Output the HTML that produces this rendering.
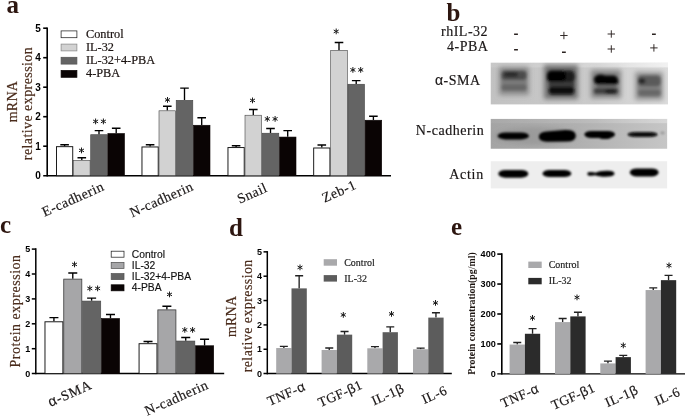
<!DOCTYPE html>
<html><head><meta charset="utf-8"><title>Figure</title>
<style>
html,body{margin:0;padding:0;background:#fff;}
body{width:685px;height:417px;overflow:hidden;font-family:"Liberation Serif",serif;}
svg{display:block;will-change:transform;transform:translateZ(0);}
text{white-space:pre;}
</style></head><body>
<svg width="685" height="417" viewBox="0 0 685 417">
<text x="6.50" y="13.00" font-family='"Liberation Serif", serif' font-size="25" fill="#2d1610" text-anchor="start" font-weight="bold">a</text>
<text x="446.50" y="20.50" font-family='"Liberation Serif", serif' font-size="25" fill="#2d1610" text-anchor="start" font-weight="bold">b</text>
<text x="0.00" y="233.30" font-family='"Liberation Serif", serif' font-size="25" fill="#2d1610" text-anchor="start" font-weight="bold">c</text>
<text x="229.00" y="235.70" font-family='"Liberation Serif", serif' font-size="25" fill="#2d1610" text-anchor="start" font-weight="bold">d</text>
<text x="451.00" y="235.00" font-family='"Liberation Serif", serif' font-size="25" fill="#2d1610" text-anchor="start" font-weight="bold">e</text>
<path d="M47.20 27.40V176.50" stroke="#000" stroke-width="1.6" fill="none"/>
<path d="M43.20 175.70H391.00" stroke="#000" stroke-width="1.6" fill="none"/>
<text x="40.90" y="179.30" font-family='"Liberation Sans", sans-serif' font-size="10" fill="#000" text-anchor="end" font-weight="bold">0</text>
<path d="M43.20 146.20H47.20" stroke="#000" stroke-width="1.6"/>
<text x="40.90" y="149.80" font-family='"Liberation Sans", sans-serif' font-size="10" fill="#000" text-anchor="end" font-weight="bold">1</text>
<path d="M43.20 116.70H47.20" stroke="#000" stroke-width="1.6"/>
<text x="40.90" y="120.30" font-family='"Liberation Sans", sans-serif' font-size="10" fill="#000" text-anchor="end" font-weight="bold">2</text>
<path d="M43.20 87.20H47.20" stroke="#000" stroke-width="1.6"/>
<text x="40.90" y="90.80" font-family='"Liberation Sans", sans-serif' font-size="10" fill="#000" text-anchor="end" font-weight="bold">3</text>
<path d="M43.20 57.70H47.20" stroke="#000" stroke-width="1.6"/>
<text x="40.90" y="61.30" font-family='"Liberation Sans", sans-serif' font-size="10" fill="#000" text-anchor="end" font-weight="bold">4</text>
<path d="M43.20 28.20H47.20" stroke="#000" stroke-width="1.6"/>
<text x="40.90" y="31.80" font-family='"Liberation Sans", sans-serif' font-size="10" fill="#000" text-anchor="end" font-weight="bold">5</text>
<path d="M64.60 146.20V144.72M60.30 144.72H68.90" stroke="#000" stroke-width="1.35" fill="none"/>
<rect x="56.48" y="146.67" width="16.25" height="29.02" fill="#ffffff" stroke="#111" stroke-width="0.95"/>
<path d="M81.80 160.06V157.70M77.50 157.70H86.10" stroke="#000" stroke-width="1.35" fill="none"/>
<rect x="73.50" y="160.37" width="16.60" height="15.33" fill="#d2d2d2" stroke="#444" stroke-width="0.6"/>
<path d="M99.00 134.40V130.56M94.70 130.56H103.30" stroke="#000" stroke-width="1.35" fill="none"/>
<rect x="90.70" y="134.70" width="16.60" height="41.00" fill="#646464" stroke="#444" stroke-width="0.6"/>
<path d="M116.20 133.22V128.20M111.90 128.20H120.50" stroke="#000" stroke-width="1.35" fill="none"/>
<rect x="107.90" y="133.52" width="16.60" height="42.18" fill="#0a0404" stroke="#0a0404" stroke-width="0.6"/>
<path d="M150.10 146.50V144.72M145.80 144.72H154.40" stroke="#000" stroke-width="1.35" fill="none"/>
<rect x="141.97" y="146.97" width="16.25" height="28.73" fill="#ffffff" stroke="#111" stroke-width="0.95"/>
<path d="M167.30 110.50V106.23M163.00 106.23H171.60" stroke="#000" stroke-width="1.35" fill="none"/>
<rect x="159.00" y="110.80" width="16.60" height="64.89" fill="#d2d2d2" stroke="#444" stroke-width="0.6"/>
<path d="M184.50 100.03V88.08M180.20 88.08H188.80" stroke="#000" stroke-width="1.35" fill="none"/>
<rect x="176.20" y="100.33" width="16.60" height="75.37" fill="#646464" stroke="#444" stroke-width="0.6"/>
<path d="M201.70 124.96V117.73M197.40 117.73H206.00" stroke="#000" stroke-width="1.35" fill="none"/>
<rect x="193.40" y="125.26" width="16.60" height="50.44" fill="#0a0404" stroke="#0a0404" stroke-width="0.6"/>
<path d="M236.10 147.08V145.76M231.80 145.76H240.40" stroke="#000" stroke-width="1.35" fill="none"/>
<rect x="227.97" y="147.56" width="16.25" height="28.14" fill="#ffffff" stroke="#111" stroke-width="0.95"/>
<path d="M253.30 114.93V109.47M249.00 109.47H257.60" stroke="#000" stroke-width="1.35" fill="none"/>
<rect x="245.00" y="115.23" width="16.60" height="60.47" fill="#d2d2d2" stroke="#444" stroke-width="0.6"/>
<path d="M270.50 132.92V128.50M266.20 128.50H274.80" stroke="#000" stroke-width="1.35" fill="none"/>
<rect x="262.20" y="133.22" width="16.60" height="42.48" fill="#646464" stroke="#444" stroke-width="0.6"/>
<path d="M287.70 136.76V130.56M283.40 130.56H292.00" stroke="#000" stroke-width="1.35" fill="none"/>
<rect x="279.40" y="137.06" width="16.60" height="38.64" fill="#0a0404" stroke="#0a0404" stroke-width="0.6"/>
<path d="M321.80 147.53V145.02M317.50 145.02H326.10" stroke="#000" stroke-width="1.35" fill="none"/>
<rect x="313.68" y="148.00" width="16.25" height="27.70" fill="#ffffff" stroke="#111" stroke-width="0.95"/>
<path d="M339.00 50.18V42.51M334.70 42.51H343.30" stroke="#000" stroke-width="1.35" fill="none"/>
<rect x="330.70" y="50.48" width="16.60" height="125.22" fill="#d2d2d2" stroke="#444" stroke-width="0.6"/>
<path d="M356.20 83.95V80.56M351.90 80.56H360.50" stroke="#000" stroke-width="1.35" fill="none"/>
<rect x="347.90" y="84.25" width="16.60" height="91.44" fill="#646464" stroke="#444" stroke-width="0.6"/>
<path d="M373.40 119.94V116.26M369.10 116.26H377.70" stroke="#000" stroke-width="1.35" fill="none"/>
<rect x="365.10" y="120.24" width="16.60" height="55.45" fill="#0a0404" stroke="#0a0404" stroke-width="0.6"/>
<path d="M81.50 147.90L81.50 152.90M79.33 149.15L83.67 151.65M83.67 149.15L79.33 151.65" stroke="#1a1a1a" stroke-width="1.0" fill="none" stroke-linecap="round"/>
<path d="M95.60 118.90L95.60 123.90M93.43 120.15L97.77 122.65M97.77 120.15L93.43 122.65M103.40 118.90L103.40 123.90M101.23 120.15L105.57 122.65M105.57 120.15L101.23 122.65" stroke="#1a1a1a" stroke-width="1.0" fill="none" stroke-linecap="round"/>
<path d="M167.50 97.40L167.50 102.40M165.33 98.65L169.67 101.15M169.67 98.65L165.33 101.15" stroke="#1a1a1a" stroke-width="1.0" fill="none" stroke-linecap="round"/>
<path d="M252.50 97.90L252.50 102.90M250.33 99.15L254.67 101.65M254.67 99.15L250.33 101.65" stroke="#1a1a1a" stroke-width="1.0" fill="none" stroke-linecap="round"/>
<path d="M267.30 116.40L267.30 121.40M265.13 117.65L269.47 120.15M269.47 117.65L265.13 120.15M275.10 116.40L275.10 121.40M272.93 117.65L277.27 120.15M277.27 117.65L272.93 120.15" stroke="#1a1a1a" stroke-width="1.0" fill="none" stroke-linecap="round"/>
<path d="M336.20 28.90L336.20 33.90M334.03 30.15L338.37 32.65M338.37 30.15L334.03 32.65" stroke="#1a1a1a" stroke-width="1.0" fill="none" stroke-linecap="round"/>
<path d="M352.90 67.40L352.90 72.40M350.73 68.65L355.07 71.15M355.07 68.65L350.73 71.15M360.70 67.40L360.70 72.40M358.53 68.65L362.87 71.15M362.87 68.65L358.53 71.15" stroke="#1a1a1a" stroke-width="1.0" fill="none" stroke-linecap="round"/>
<rect x="61.1" y="30.90" width="15.8" height="6.8" fill="#ffffff" stroke="#222" stroke-width="0.75"/>
<text x="86.00" y="37.80" font-family='"Liberation Serif", serif' font-size="12.3" fill="#1a1210" text-anchor="start" font-weight="normal" stroke="#1a1210" stroke-width="0.2">Control</text>
<rect x="61.1" y="44.10" width="15.8" height="6.8" fill="#d2d2d2" stroke="#8a8a8a" stroke-width="0.75"/>
<text x="86.00" y="51.00" font-family='"Liberation Serif", serif' font-size="12.3" fill="#1a1210" text-anchor="start" font-weight="normal" stroke="#1a1210" stroke-width="0.2">IL-32</text>
<rect x="61.1" y="57.30" width="15.8" height="6.8" fill="#646464" stroke="#555" stroke-width="0.75"/>
<text x="86.00" y="64.20" font-family='"Liberation Serif", serif' font-size="12.3" fill="#1a1210" text-anchor="start" font-weight="normal" stroke="#1a1210" stroke-width="0.2">IL-32+4-PBA</text>
<rect x="61.1" y="70.50" width="15.8" height="6.8" fill="#0a0404" stroke="#0a0404" stroke-width="0.75"/>
<text x="86.00" y="77.40" font-family='"Liberation Serif", serif' font-size="12.3" fill="#1a1210" text-anchor="start" font-weight="normal" stroke="#1a1210" stroke-width="0.2">4-PBA</text>
<text x="17.20" y="101.60" font-family='"Liberation Serif", serif' font-size="14" fill="#4a2c1c" text-anchor="middle" font-weight="normal" letter-spacing="0.2" transform="rotate(-90 17.20 101.60)" stroke="#4a2c1c" stroke-width="0.18">mRNA</text>
<text x="31.60" y="103.70" font-family='"Liberation Serif", serif' font-size="14" fill="#4a2c1c" text-anchor="middle" font-weight="normal" transform="rotate(-90 31.60 103.70)" textLength="113" lengthAdjust="spacing" stroke="#4a2c1c" stroke-width="0.18">relative expression</text>
<text x="44.50" y="216.80" font-family='"Liberation Serif", serif' font-size="14" fill="#1b1717" text-anchor="start" font-weight="normal" letter-spacing="0.5" transform="rotate(-24 44.50 216.80)" stroke="#1b1717" stroke-width="0.18">E-cadherin</text>
<text x="132.20" y="217.40" font-family='"Liberation Serif", serif' font-size="14" fill="#1b1717" text-anchor="start" font-weight="normal" letter-spacing="0.5" transform="rotate(-24 132.20 217.40)" stroke="#1b1717" stroke-width="0.18">N-cadherin</text>
<text x="239.70" y="203.80" font-family='"Liberation Serif", serif' font-size="14" fill="#1b1717" text-anchor="start" font-weight="normal" letter-spacing="0.5" transform="rotate(-24 239.70 203.80)" stroke="#1b1717" stroke-width="0.18">Snail</text>
<text x="324.50" y="202.80" font-family='"Liberation Serif", serif' font-size="14" fill="#1b1717" text-anchor="start" font-weight="normal" letter-spacing="0.5" transform="rotate(-24 324.50 202.80)" stroke="#1b1717" stroke-width="0.18">Zeb-1</text>
<text x="441.00" y="35.70" font-family='"Liberation Serif", serif' font-size="14" fill="#1b1717" text-anchor="start" font-weight="normal" letter-spacing="0.5" stroke="#1b1717" stroke-width="0.18">rhIL-32</text>
<text x="447.00" y="50.70" font-family='"Liberation Serif", serif' font-size="14" fill="#1b1717" text-anchor="start" font-weight="normal" letter-spacing="0.5" stroke="#1b1717" stroke-width="0.18">4-PBA</text>
<text x="435.00" y="85.00" font-family='"Liberation Serif", serif' font-size="14" fill="#1b1717" text-anchor="start" font-weight="normal" letter-spacing="0.5" stroke="#1b1717" stroke-width="0.18"><tspan font-family="Liberation Sans">α</tspan>-SMA</text>
<text x="415.80" y="134.50" font-family='"Liberation Serif", serif' font-size="14" fill="#1b1717" text-anchor="start" font-weight="normal" letter-spacing="0.55" stroke="#1b1717" stroke-width="0.18">N-cadherin</text>
<text x="449.30" y="179.00" font-family='"Liberation Serif", serif' font-size="14" fill="#1b1717" text-anchor="start" font-weight="normal" letter-spacing="0.7" stroke="#1b1717" stroke-width="0.18">Actin</text>
<defs>
<filter id="b1" x="-30%" y="-100%" width="160%" height="300%"><feGaussianBlur stdDeviation="1.7"/></filter>
<filter id="b2" x="-30%" y="-100%" width="160%" height="300%"><feGaussianBlur stdDeviation="0.9"/></filter>
<filter id="b3" x="-30%" y="-100%" width="160%" height="300%"><feGaussianBlur stdDeviation="2.5"/></filter>
<linearGradient id="g1" x1="0" x2="1" y1="0" y2="0"><stop offset="0" stop-color="#c2c2c2"/><stop offset="0.55" stop-color="#cacaca"/><stop offset="1" stop-color="#dcdcdc"/></linearGradient>
<linearGradient id="g2" x1="0" x2="1" y1="0" y2="0"><stop offset="0" stop-color="#a4a4a4"/><stop offset="0.5" stop-color="#b0b0b0"/><stop offset="1" stop-color="#c6c6c6"/></linearGradient>
<clipPath id="c1"><rect x="490.5" y="62.5" width="177.6" height="42"/></clipPath>
<linearGradient id="g1t" x1="0" x2="1" y1="0" y2="0"><stop offset="0" stop-color="#fff" stop-opacity="0.1"/><stop offset="0.6" stop-color="#fff" stop-opacity="0.25"/><stop offset="1" stop-color="#fff" stop-opacity="0.6"/></linearGradient>
<clipPath id="c2"><rect x="490.5" y="118.8" width="176.8" height="30"/></clipPath>
<clipPath id="c3"><rect x="490.5" y="161.2" width="176.8" height="27.2"/></clipPath>
</defs>
<!-- lane +/- marks -->
<g fill="none" stroke="#2a2220">
<path stroke-width="0.95" d="M560.2 35.5h7.4M563.9 31.8v7.4M607.6 34.0h7.4M611.3 30.3v7.4M607.6 49.0h7.4M611.3 45.3v7.4M650.2 47.9h7.4M653.9 44.2v7.4"/>
<path stroke-width="1.35" d="M514.1 34.2h3.8M514.1 49.7h3.8M562.0 52.2h3.8M652.0 34.2h3.8"/>
</g>
<!-- blot 1 -->
<g clip-path="url(#c1)">
<rect x="490.5" y="62.4" width="177.6" height="42.4" fill="url(#g1)"/>
<rect x="490.5" y="62.4" width="177.6" height="5" fill="url(#g1t)"/>
<g filter="url(#b3)">
<rect x="499" y="67" width="30" height="28" fill="#848484" opacity="0.9"/>
<rect x="544" y="65" width="34" height="34" fill="#6a6a6a" opacity="0.95"/>
<rect x="591" y="70" width="30" height="28" fill="#7a7a7a" opacity="0.9"/>
<rect x="635" y="72" width="28" height="28" fill="#888" opacity="0.85"/>
</g>
<g filter="url(#b1)">
<rect x="502" y="71" width="24" height="19.5" rx="3" fill="#7c7c7c"/>
<rect x="501.5" y="70.8" width="25" height="9.2" rx="3.5" fill="#4c4c4c"/>
<rect x="504" y="72" width="14" height="5" rx="2.4" fill="#2a2a2a"/>
<rect x="501.5" y="84.4" width="25" height="6.2" rx="2.8" fill="#666"/>
<rect x="547" y="70.6" width="27.8" height="12" rx="4.5" fill="#1a1a1a"/>
<rect x="547.4" y="71" width="18.5" height="11" rx="4.5" fill="#000"/>
<rect x="549" y="82" width="25" height="5.5" fill="#3a3a3a"/>
<rect x="548.8" y="86.8" width="25.4" height="7.6" rx="3.4" fill="#0c0c0c"/>
<rect x="594.6" y="75.6" width="23" height="9.6" rx="4.2" fill="#0a0a0a"/>
<ellipse cx="600.5" cy="79.6" rx="6.6" ry="5" fill="#050505"/>
<ellipse cx="611.5" cy="81.2" rx="6.8" ry="5" fill="#050505"/>
<rect x="597" y="85" width="19" height="3.6" fill="#6a6a6a"/>
<rect x="594" y="88.2" width="24" height="5.6" rx="2.6" fill="#3c3c3c"/>
<rect x="605" y="89" width="11" height="4.4" rx="2.2" fill="#1c1c1c"/>
<rect x="638" y="75.8" width="22.6" height="20" rx="3" fill="#848484"/>
<rect x="638" y="75.6" width="22.6" height="10.8" rx="3.8" fill="#5a5a5a"/>
<rect x="638.4" y="78.4" width="7" height="5" rx="2.5" fill="#222"/>
<rect x="638.2" y="89.6" width="22.4" height="6.6" rx="3" fill="#686868"/>
</g>
</g>
<!-- blot 2 -->
<g clip-path="url(#c2)">
<rect x="490.5" y="118.7" width="177" height="30.4" fill="url(#g2)"/>
<rect x="490.5" y="118.7" width="177" height="4.5" fill="url(#g1t)" opacity="0.5"/>
<g filter="url(#b3)"><ellipse cx="536" cy="136" rx="42" ry="9" fill="#8e8e8e" opacity="0.55"/></g>
<g filter="url(#b2)">
<rect x="497.6" y="132.4" width="31.4" height="7" rx="8" ry="3.5" fill="#000"/>
<path d="M538.8 136.6 q0.4 -4.4 8 -5 l18 -1.6 q10.6 -0.4 11 5.4 q0.2 6 -9 6.2 l-20 0.2 q-8 -0.4 -8 -5.2z" fill="#000"/>
<rect x="584.4" y="131.1" width="30.6" height="6.8" rx="7" ry="3.4" fill="#000"/>
<rect x="599" y="134" width="12" height="5" rx="4" ry="2.5" fill="#000"/>
<rect x="627.6" y="131.9" width="30" height="5.2" rx="8" ry="2.6" fill="#080808"/>
<ellipse cx="662.5" cy="133" rx="2.2" ry="1.4" fill="#999"/>
</g>
</g>
<!-- blot 3 -->
<g clip-path="url(#c3)">
<rect x="490.5" y="160.8" width="177" height="28" fill="#eeeeee"/>
<g filter="url(#b2)">
<rect x="498.3" y="169.9" width="30" height="7.8" rx="7" ry="3.9" fill="#000"/>
<rect x="542.5" y="169.9" width="28.8" height="7.2" rx="7" ry="3.6" fill="#000"/>
<path d="M588 172.2 q5 -0.6 7.5 0.6 q4 -2.4 13 -2 q5.5 0 6 2.8 q0 2.6 -6 3 q-9 0.4 -13 -1.4 q-3 0.8 -7.5 0.2 q-1.5 -1.6 0 -3.2z" fill="#000"/>
<rect x="629.8" y="168.4" width="28.8" height="8" rx="7" ry="4" fill="#000"/>
</g>
</g>

<path d="M35.80 248.35V374.35" stroke="#000" stroke-width="1.5" fill="none"/>
<path d="M31.80 373.60H224.20" stroke="#000" stroke-width="1.5" fill="none"/>
<text x="30.30" y="376.84" font-family='"Liberation Sans", sans-serif' font-size="9" fill="#000" text-anchor="end" font-weight="bold">0</text>
<path d="M31.80 348.70H35.80" stroke="#000" stroke-width="1.5"/>
<text x="30.30" y="351.94" font-family='"Liberation Sans", sans-serif' font-size="9" fill="#000" text-anchor="end" font-weight="bold">1</text>
<path d="M31.80 323.80H35.80" stroke="#000" stroke-width="1.5"/>
<text x="30.30" y="327.04" font-family='"Liberation Sans", sans-serif' font-size="9" fill="#000" text-anchor="end" font-weight="bold">2</text>
<path d="M31.80 298.90H35.80" stroke="#000" stroke-width="1.5"/>
<text x="30.30" y="302.14" font-family='"Liberation Sans", sans-serif' font-size="9" fill="#000" text-anchor="end" font-weight="bold">3</text>
<path d="M31.80 274.00H35.80" stroke="#000" stroke-width="1.5"/>
<text x="30.30" y="277.24" font-family='"Liberation Sans", sans-serif' font-size="9" fill="#000" text-anchor="end" font-weight="bold">4</text>
<path d="M31.80 249.10H35.80" stroke="#000" stroke-width="1.5"/>
<text x="30.30" y="252.34" font-family='"Liberation Sans", sans-serif' font-size="9" fill="#000" text-anchor="end" font-weight="bold">5</text>
<path d="M53.92 321.31V317.58M49.42 317.58H58.42" stroke="#000" stroke-width="1.35" fill="none"/>
<rect x="44.98" y="321.79" width="17.90" height="51.82" fill="#ffffff" stroke="#111" stroke-width="0.95"/>
<path d="M72.78 278.73V273.00M68.28 273.00H77.28" stroke="#000" stroke-width="1.35" fill="none"/>
<rect x="63.75" y="279.13" width="18.05" height="94.47" fill="#a6a6a8" stroke="#3a3a3a" stroke-width="0.8"/>
<path d="M91.62 300.77V298.15M87.12 298.15H96.12" stroke="#000" stroke-width="1.35" fill="none"/>
<rect x="82.50" y="301.07" width="18.25" height="72.53" fill="#646464" stroke="#444" stroke-width="0.6"/>
<path d="M110.48 318.20V314.46M105.98 314.46H114.98" stroke="#000" stroke-width="1.35" fill="none"/>
<rect x="101.35" y="318.50" width="18.25" height="55.10" fill="#0a0404" stroke="#0a0404" stroke-width="0.6"/>
<path d="M148.03 343.22V341.48M143.53 341.48H152.53" stroke="#000" stroke-width="1.35" fill="none"/>
<rect x="139.07" y="343.70" width="17.90" height="29.90" fill="#ffffff" stroke="#111" stroke-width="0.95"/>
<path d="M166.88 309.48V306.25M162.38 306.25H171.38" stroke="#000" stroke-width="1.35" fill="none"/>
<rect x="157.85" y="309.88" width="18.05" height="63.72" fill="#a6a6a8" stroke="#3a3a3a" stroke-width="0.8"/>
<path d="M185.73 340.73V337.50M181.23 337.50H190.23" stroke="#000" stroke-width="1.35" fill="none"/>
<rect x="176.60" y="341.03" width="18.25" height="32.57" fill="#646464" stroke="#444" stroke-width="0.6"/>
<path d="M204.58 345.46V339.24M200.08 339.24H209.08" stroke="#000" stroke-width="1.35" fill="none"/>
<rect x="195.45" y="345.76" width="18.25" height="27.84" fill="#0a0404" stroke="#0a0404" stroke-width="0.6"/>
<path d="M74.50 261.90L74.50 266.90M72.33 263.15L76.67 265.65M76.67 263.15L72.33 265.65" stroke="#1a1a1a" stroke-width="1.0" fill="none" stroke-linecap="round"/>
<path d="M89.80 285.90L89.80 290.90M87.63 287.15L91.97 289.65M91.97 287.15L87.63 289.65M97.60 285.90L97.60 290.90M95.43 287.15L99.77 289.65M99.77 287.15L95.43 289.65" stroke="#1a1a1a" stroke-width="1.0" fill="none" stroke-linecap="round"/>
<path d="M169.50 291.90L169.50 296.90M167.33 293.15L171.67 295.65M171.67 293.15L167.33 295.65" stroke="#1a1a1a" stroke-width="1.0" fill="none" stroke-linecap="round"/>
<path d="M184.80 327.40L184.80 332.40M182.63 328.65L186.97 331.15M186.97 328.65L182.63 331.15M192.60 327.40L192.60 332.40M190.43 328.65L194.77 331.15M194.77 328.65L190.43 331.15" stroke="#1a1a1a" stroke-width="1.0" fill="none" stroke-linecap="round"/>
<rect x="111.2" y="251.20" width="12.8" height="6" fill="#ffffff" stroke="#222" stroke-width="0.75"/>
<text x="131.80" y="257.70" font-family='"Liberation Sans", sans-serif' font-size="10.3" fill="#111" text-anchor="start" font-weight="normal" stroke="#111" stroke-width="0.15">Control</text>
<rect x="111.2" y="262.40" width="12.8" height="6" fill="#a6a6a8" stroke="#555" stroke-width="0.75"/>
<text x="131.80" y="268.90" font-family='"Liberation Sans", sans-serif' font-size="10.3" fill="#111" text-anchor="start" font-weight="normal" stroke="#111" stroke-width="0.15">IL-32</text>
<rect x="111.2" y="273.60" width="12.8" height="6" fill="#646464" stroke="#555" stroke-width="0.75"/>
<text x="131.80" y="280.10" font-family='"Liberation Sans", sans-serif' font-size="10.3" fill="#111" text-anchor="start" font-weight="normal" stroke="#111" stroke-width="0.15">IL-32+4-PBA</text>
<rect x="111.2" y="284.80" width="12.8" height="6" fill="#0a0404" stroke="#0a0404" stroke-width="0.75"/>
<text x="131.80" y="291.30" font-family='"Liberation Sans", sans-serif' font-size="10.3" fill="#111" text-anchor="start" font-weight="normal" stroke="#111" stroke-width="0.15">4-PBA</text>
<text x="20.30" y="311.20" font-family='"Liberation Serif", serif' font-size="14" fill="#4a2c1c" text-anchor="middle" font-weight="normal" transform="rotate(-90 20.30 311.20)" textLength="112.5" lengthAdjust="spacing" stroke="#4a2c1c" stroke-width="0.18">Protein expression</text>
<text x="50.60" y="407.00" font-family='"Liberation Serif", serif' font-size="14" fill="#1b1717" text-anchor="start" font-weight="normal" letter-spacing="0.6" transform="rotate(-24 50.60 407.00)" stroke="#1b1717" stroke-width="0.18"><tspan font-family="Liberation Sans">α</tspan>-SMA</text>
<text x="147.20" y="415.80" font-family='"Liberation Serif", serif' font-size="14" fill="#1b1717" text-anchor="start" font-weight="normal" letter-spacing="0.5" transform="rotate(-24 147.20 415.80)" stroke="#1b1717" stroke-width="0.18">N-cadherin</text>
<path d="M267.30 251.10V374.35" stroke="#000" stroke-width="1.5" fill="none"/>
<path d="M263.50 373.60H451.80" stroke="#000" stroke-width="1.5" fill="none"/>
<text x="262.00" y="376.84" font-family='"Liberation Sans", sans-serif' font-size="9" fill="#000" text-anchor="end" font-weight="bold">0</text>
<path d="M263.50 349.25H267.30" stroke="#000" stroke-width="1.5"/>
<text x="262.00" y="352.49" font-family='"Liberation Sans", sans-serif' font-size="9" fill="#000" text-anchor="end" font-weight="bold">1</text>
<path d="M263.50 324.90H267.30" stroke="#000" stroke-width="1.5"/>
<text x="262.00" y="328.14" font-family='"Liberation Sans", sans-serif' font-size="9" fill="#000" text-anchor="end" font-weight="bold">2</text>
<path d="M263.50 300.55H267.30" stroke="#000" stroke-width="1.5"/>
<text x="262.00" y="303.79" font-family='"Liberation Sans", sans-serif' font-size="9" fill="#000" text-anchor="end" font-weight="bold">3</text>
<path d="M263.50 276.20H267.30" stroke="#000" stroke-width="1.5"/>
<text x="262.00" y="279.44" font-family='"Liberation Sans", sans-serif' font-size="9" fill="#000" text-anchor="end" font-weight="bold">4</text>
<path d="M263.50 251.85H267.30" stroke="#000" stroke-width="1.5"/>
<text x="262.00" y="255.09" font-family='"Liberation Sans", sans-serif' font-size="9" fill="#000" text-anchor="end" font-weight="bold">5</text>
<path d="M283.85 348.03V346.33M279.85 346.33H287.85" stroke="#222" stroke-width="1.35" fill="none"/>
<rect x="276.20" y="348.03" width="15.30" height="25.57" fill="#a9a9ab"/>
<path d="M299.15 288.38V275.71M295.15 275.71H303.15" stroke="#222" stroke-width="1.35" fill="none"/>
<rect x="291.50" y="288.38" width="15.30" height="85.23" fill="#5c5c5c"/>
<path d="M329.25 349.98V348.03M325.25 348.03H333.25" stroke="#222" stroke-width="1.35" fill="none"/>
<rect x="321.60" y="349.98" width="15.30" height="23.62" fill="#a9a9ab"/>
<path d="M344.55 334.64V331.47M340.55 331.47H348.55" stroke="#222" stroke-width="1.35" fill="none"/>
<rect x="336.90" y="334.64" width="15.30" height="38.96" fill="#5c5c5c"/>
<path d="M374.95 348.28V346.57M370.95 346.57H378.95" stroke="#222" stroke-width="1.35" fill="none"/>
<rect x="367.30" y="348.28" width="15.30" height="25.32" fill="#a9a9ab"/>
<path d="M390.25 332.21V326.85M386.25 326.85H394.25" stroke="#222" stroke-width="1.35" fill="none"/>
<rect x="382.60" y="332.21" width="15.30" height="41.39" fill="#5c5c5c"/>
<path d="M420.65 349.25V348.15M416.65 348.15H424.65" stroke="#222" stroke-width="1.35" fill="none"/>
<rect x="413.00" y="349.25" width="15.30" height="24.35" fill="#a9a9ab"/>
<path d="M435.95 317.60V312.73M431.95 312.73H439.95" stroke="#222" stroke-width="1.35" fill="none"/>
<rect x="428.30" y="317.60" width="15.30" height="56.00" fill="#5c5c5c"/>
<path d="M300.00 264.90L300.00 269.90M297.83 266.15L302.17 268.65M302.17 266.15L297.83 268.65" stroke="#1a1a1a" stroke-width="1.0" fill="none" stroke-linecap="round"/>
<path d="M343.30 312.40L343.30 317.40M341.13 313.65L345.47 316.15M345.47 313.65L341.13 316.15" stroke="#1a1a1a" stroke-width="1.0" fill="none" stroke-linecap="round"/>
<path d="M391.50 311.40L391.50 316.40M389.33 312.65L393.67 315.15M393.67 312.65L389.33 315.15" stroke="#1a1a1a" stroke-width="1.0" fill="none" stroke-linecap="round"/>
<path d="M435.50 300.40L435.50 305.40M433.33 301.65L437.67 304.15M437.67 301.65L433.33 304.15" stroke="#1a1a1a" stroke-width="1.0" fill="none" stroke-linecap="round"/>
<rect x="323.7" y="259.2" width="13.3" height="6.5" fill="#a9a9ab"/>
<rect x="323.7" y="275.1" width="13.3" height="6.5" fill="#5c5c5c"/>
<text x="344.20" y="265.90" font-family='"Liberation Serif", serif' font-size="10" fill="#222" text-anchor="start" font-weight="normal" stroke="#222" stroke-width="0.18">Control</text>
<text x="344.20" y="281.60" font-family='"Liberation Serif", serif' font-size="10" fill="#222" text-anchor="start" font-weight="normal" stroke="#222" stroke-width="0.18">IL-32</text>
<text x="236.40" y="316.40" font-family='"Liberation Serif", serif' font-size="14" fill="#4a2c1c" text-anchor="middle" font-weight="normal" letter-spacing="0.2" transform="rotate(-90 236.40 316.40)" stroke="#4a2c1c" stroke-width="0.18">mRNA</text>
<text x="251.50" y="316.00" font-family='"Liberation Serif", serif' font-size="14" fill="#4a2c1c" text-anchor="middle" font-weight="normal" transform="rotate(-90 251.50 316.00)" textLength="112.7" lengthAdjust="spacing" stroke="#4a2c1c" stroke-width="0.18">relative expression</text>
<text x="269.70" y="406.00" font-family='"Liberation Serif", serif' font-size="13.5" fill="#1b1717" text-anchor="start" font-weight="normal" letter-spacing="0.5" transform="rotate(-24 269.70 406.00)" stroke="#1b1717" stroke-width="0.18">TNF-<tspan font-family="Liberation Sans">α</tspan></text>
<text x="320.50" y="407.30" font-family='"Liberation Serif", serif' font-size="13.5" fill="#1b1717" text-anchor="start" font-weight="normal" letter-spacing="0.4" transform="rotate(-24 320.50 407.30)" stroke="#1b1717" stroke-width="0.18">TGF-<tspan font-family="Liberation Sans">β</tspan>1</text>
<text x="373.90" y="405.60" font-family='"Liberation Serif", serif' font-size="13.5" fill="#1b1717" text-anchor="start" font-weight="normal" letter-spacing="0.5" transform="rotate(-24 373.90 405.60)" stroke="#1b1717" stroke-width="0.18">IL-1<tspan font-family="Liberation Sans">β</tspan></text>
<text x="424.30" y="404.00" font-family='"Liberation Serif", serif' font-size="13.5" fill="#1b1717" text-anchor="start" font-weight="normal" letter-spacing="0.5" transform="rotate(-24 424.30 404.00)" stroke="#1b1717" stroke-width="0.18">IL-6</text>
<path d="M501.80 253.30V374.52" stroke="#000" stroke-width="1.6" fill="none"/>
<path d="M497.30 373.90H686.00" stroke="#000" stroke-width="1.25" fill="none"/>
<text x="495.80" y="377.18" font-family='"Liberation Sans", sans-serif' font-size="9.1" fill="#000" text-anchor="end" font-weight="bold">0</text>
<path d="M497.30 343.95H501.80" stroke="#000" stroke-width="1.6"/>
<text x="495.80" y="347.23" font-family='"Liberation Sans", sans-serif' font-size="9.1" fill="#000" text-anchor="end" font-weight="bold">100</text>
<path d="M497.30 314.00H501.80" stroke="#000" stroke-width="1.6"/>
<text x="495.80" y="317.28" font-family='"Liberation Sans", sans-serif' font-size="9.1" fill="#000" text-anchor="end" font-weight="bold">200</text>
<path d="M497.30 284.05H501.80" stroke="#000" stroke-width="1.6"/>
<text x="495.80" y="287.33" font-family='"Liberation Sans", sans-serif' font-size="9.1" fill="#000" text-anchor="end" font-weight="bold">300</text>
<path d="M497.30 254.10H501.80" stroke="#000" stroke-width="1.6"/>
<text x="495.80" y="257.38" font-family='"Liberation Sans", sans-serif' font-size="9.1" fill="#000" text-anchor="end" font-weight="bold">400</text>
<path d="M517.25 344.55V342.45M513.25 342.45H521.25" stroke="#222" stroke-width="1.35" fill="none"/>
<rect x="509.60" y="344.55" width="15.30" height="29.35" fill="#a9a9ab"/>
<path d="M532.55 333.77V328.68M528.55 328.68H536.55" stroke="#222" stroke-width="1.35" fill="none"/>
<rect x="524.90" y="333.77" width="15.30" height="40.13" fill="#2b2b2b"/>
<path d="M562.65 322.09V318.49M558.65 318.49H566.65" stroke="#222" stroke-width="1.35" fill="none"/>
<rect x="555.00" y="322.09" width="15.30" height="51.81" fill="#a9a9ab"/>
<path d="M577.95 316.40V312.20M573.95 312.20H581.95" stroke="#222" stroke-width="1.35" fill="none"/>
<rect x="570.30" y="316.40" width="15.30" height="57.50" fill="#2b2b2b"/>
<path d="M607.95 363.42V361.17M603.95 361.17H611.95" stroke="#222" stroke-width="1.35" fill="none"/>
<rect x="600.30" y="363.42" width="15.30" height="10.48" fill="#a9a9ab"/>
<path d="M623.25 357.13V355.33M619.25 355.33H627.25" stroke="#222" stroke-width="1.35" fill="none"/>
<rect x="615.60" y="357.13" width="15.30" height="16.77" fill="#2b2b2b"/>
<path d="M653.25 290.04V287.94M649.25 287.94H657.25" stroke="#222" stroke-width="1.35" fill="none"/>
<rect x="645.60" y="290.04" width="15.30" height="83.86" fill="#a9a9ab"/>
<path d="M668.55 280.16V275.36M664.55 275.36H672.55" stroke="#222" stroke-width="1.35" fill="none"/>
<rect x="660.90" y="280.16" width="15.30" height="93.74" fill="#2b2b2b"/>
<path d="M532.50 315.40L532.50 320.40M530.33 316.65L534.67 319.15M534.67 316.65L530.33 319.15" stroke="#1a1a1a" stroke-width="1.0" fill="none" stroke-linecap="round"/>
<path d="M577.00 294.90L577.00 299.90M574.83 296.15L579.17 298.65M579.17 296.15L574.83 298.65" stroke="#1a1a1a" stroke-width="1.0" fill="none" stroke-linecap="round"/>
<path d="M623.30 342.90L623.30 347.90M621.13 344.15L625.47 346.65M625.47 344.15L621.13 346.65" stroke="#1a1a1a" stroke-width="1.0" fill="none" stroke-linecap="round"/>
<path d="M669.00 262.90L669.00 267.90M666.83 264.15L671.17 266.65M671.17 264.15L666.83 266.65" stroke="#1a1a1a" stroke-width="1.0" fill="none" stroke-linecap="round"/>
<rect x="528.3" y="261.6" width="13.4" height="6.4" fill="#a9a9ab"/>
<rect x="528.3" y="277.9" width="13.4" height="6.4" fill="#2b2b2b"/>
<text x="548.70" y="268.20" font-family='"Liberation Serif", serif' font-size="10" fill="#222" text-anchor="start" font-weight="normal" stroke="#222" stroke-width="0.18">Control</text>
<text x="548.70" y="284.40" font-family='"Liberation Serif", serif' font-size="10" fill="#222" text-anchor="start" font-weight="normal" stroke="#222" stroke-width="0.18">IL-32</text>
<text x="475.20" y="313.50" font-family='"Liberation Serif", serif' font-size="9.9" fill="#1c1410" text-anchor="middle" font-weight="bold" transform="rotate(-90 475.20 313.50)">Protein concentration(pg/ml)</text>
<text x="503.30" y="407.90" font-family='"Liberation Serif", serif' font-size="13.5" fill="#1b1717" text-anchor="start" font-weight="normal" letter-spacing="0.5" transform="rotate(-24 503.30 407.90)" stroke="#1b1717" stroke-width="0.18">TNF-<tspan font-family="Liberation Sans">α</tspan></text>
<text x="553.70" y="410.00" font-family='"Liberation Serif", serif' font-size="13.5" fill="#1b1717" text-anchor="start" font-weight="normal" letter-spacing="0.3" transform="rotate(-24 553.70 410.00)" stroke="#1b1717" stroke-width="0.18">TGF-<tspan font-family="Liberation Sans">β</tspan>1</text>
<text x="607.60" y="407.30" font-family='"Liberation Serif", serif' font-size="13.5" fill="#1b1717" text-anchor="start" font-weight="normal" letter-spacing="0.6" transform="rotate(-24 607.60 407.30)" stroke="#1b1717" stroke-width="0.18">IL-1<tspan font-family="Liberation Sans">β</tspan></text>
<text x="657.30" y="405.60" font-family='"Liberation Serif", serif' font-size="13.5" fill="#1b1717" text-anchor="start" font-weight="normal" letter-spacing="0.5" transform="rotate(-24 657.30 405.60)" stroke="#1b1717" stroke-width="0.18">IL-6</text>
</svg>
</body></html>
